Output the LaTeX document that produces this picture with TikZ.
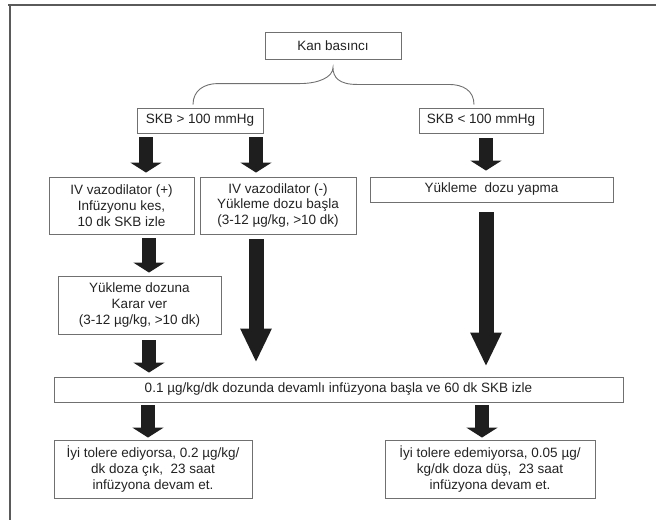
\documentclass[tikz,border=0pt]{standalone}
\usepackage{fontspec}
\setmainfont{Liberation Sans}
\usepackage{tikz}
\usetikzlibrary{arrows.meta,calc}
\definecolor{frm}{HTML}{5A5A5A}
\definecolor{bxc}{HTML}{707070}
\definecolor{arc}{HTML}{1E1E1E}
\definecolor{txc}{HTML}{222222}
\tikzset{
  bx/.style   = {draw=bxc, line width=0.9pt, inner sep=0pt, align=center,
                 text=txc, font=\fontsize{13.5}{15.7}\selectfont},
  arr/.style  = {draw=arc, line width=14pt, -{Triangle[length=10pt,width=31pt]}},
  arrl/.style = {draw=arc, line width=15pt, -{Triangle[length=34pt,width=29pt]}},
  brc/.style  = {draw=bxc, line width=0.9pt},
  frame/.style= {draw=frm, line width=2pt},
}
\begin{document}
\begin{tikzpicture}[x=1pt,y=-1pt]
  \useasboundingbox (0,0) rectangle (656,520);
  % outer frame
  \draw[frame] (8,5) -- (656,5) (10,5) -- (10,520);
  % boxes
  \node[bx, minimum width=136pt, minimum height=27pt] (kan) at (333,45.5) {Kan basıncı};
  \node[bx, minimum width=126pt, minimum height=25pt] (gt)  at (200,120.5) {SKB > 100 mmHg};
  \node[bx, minimum width=124pt, minimum height=25pt] (lt)  at (481,120.5) {SKB < 100 mmHg};
  \node[bx, minimum width=145pt, minimum height=57pt] (ivp) at (121.5,205.5)
    {IV vazodilator (+)\\ Infüzyonu kes,\\ 10 dk SKB izle};
  \node[bx, minimum width=156pt, minimum height=57pt] (ivm) at (278,205.5)
    {IV vazodilator (-)\\ Yükleme dozu başla\\ (3-12 µg/kg, >10 dk)};
  \node[bx, minimum width=243pt, minimum height=25pt] (yap) at (491.5,189.5) {Yükleme~ dozu yapma};
  \node[bx, minimum width=163pt, minimum height=58pt] (yuk) at (139.5,305)
    {Yükleme dozuna\\ Karar ver\\ (3-12 µg/kg, >10 dk)};
  \node[bx, minimum width=569pt, minimum height=25pt] (inf) at (338.5,389.5)
    {0.1 µg/kg/dk dozunda devamlı infüzyona başla ve 60 dk SKB izle};
  \node[bx, minimum width=198pt, minimum height=58pt] (iyi) at (153,469)
    {İyi tolere ediyorsa, 0.2 µg/kg/\\ dk doza çık,~ 23 saat\\ infüzyona devam et.};
  \node[bx, minimum width=210pt, minimum height=58pt] (ede) at (490,469)
    {İyi tolere edemiyorsa, 0.05 µg/\\ kg/dk doza düş,~ 23 saat\\ infüzyona devam et.};
  % brace
  \coordinate (tip) at ($(kan.south)+(0,8)$);
  \draw[brc] ($(gt.north)+(-7,-3)$) .. controls ++(0,-14) and ++(-14,0) .. ++(25,-21)
    -- ++(82,0) .. controls ++(18,0) and ++(0,10) .. (tip)
    .. controls ++(0,10) and ++(-18,0) .. ++(24,17) -- ++(92,0)
    .. controls ++(14,0) and ++(0,-14) .. ($(lt.north)+(-7,-3)$);
  % arrows
  \draw[arr]  ([xshift=-54pt,yshift=-4pt]gt.south) -- ([xshift=24.5pt,yshift=4pt]ivp.north);
  \draw[arr]  ([xshift=56pt,yshift=-4pt]gt.south) -- ([xshift=-22pt,yshift=4pt]ivm.north);
  \draw[arr]  ([xshift=5pt,yshift=-5pt]lt.south) -- ([xshift=-5.5pt,yshift=6pt]yap.north);
  \draw[arr]  ([xshift=27.5pt,yshift=-4pt]ivp.south) -- ([xshift=9.5pt,yshift=3pt]yuk.north);
  \draw[arrl] ([xshift=-22pt,yshift=-5pt]ivm.south) -- ([xshift=-82.5pt,yshift=14pt]inf.north);
  \draw[arrl] ([xshift=-5.5pt,yshift=-10pt]yap.south) -- ([xshift=147.5pt,yshift=10pt]inf.north);
  \draw[arr]  ([xshift=9.5pt,yshift=-6pt]yuk.south) -- ([xshift=-189.5pt,yshift=4pt]inf.north);
  \draw[arr]  ([xshift=-190.5pt,yshift=-3pt]inf.south) -- ([xshift=-5pt,yshift=2pt]iyi.north);
  \draw[arr]  ([xshift=143.5pt,yshift=-3pt]inf.south) -- ([xshift=-8pt,yshift=2pt]ede.north);
\end{tikzpicture}
\end{document}
